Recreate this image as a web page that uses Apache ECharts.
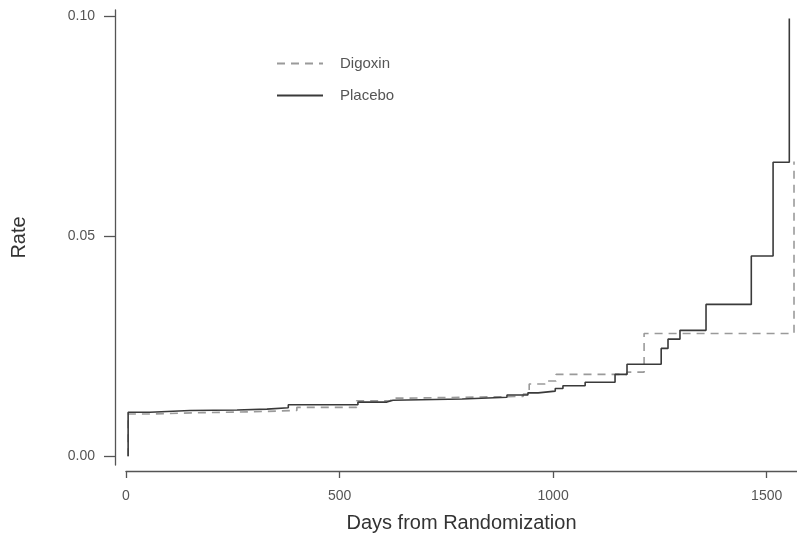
<!DOCTYPE html>
<html>
<head>
<meta charset="utf-8">
<script src="https://cdn.jsdelivr.net/npm/echarts@6/dist/echarts.min.js"></script>
<style>
  html, body { margin: 0; padding: 0; background: #fff; }
  #chart { width: 797px; height: 542px; }
</style>
</head>
<body>
<div id="chart"></div>
<script>
// step points [day, rate]
var digoxinData = [
	[5, 0], [5, 0.0096], [60, 0.0099], [180, 0.0101], [300, 0.0104], [400, 0.0111],
	[540, 0.0126], [620, 0.0132], [660, 0.0136], [930, 0.0141], [944, 0.0164],
	[981, 0.0171], [1007, 0.0186], [1173, 0.0191], [1213, 0.0279], [1564, 0.0670]
];
var placeboData = [
	[5, 0], [5, 0.0100], [56, 0.0104], [150, 0.0105], [260, 0.0107], [330, 0.0110],
	[380, 0.0117], [543, 0.0123], [611, 0.0127], [625, 0.0130], [787, 0.0134],
	[892, 0.0139], [941, 0.0144], [965, 0.0148], [1005, 0.0154], [1023, 0.0160],
	[1075, 0.0168], [1145, 0.0186], [1173, 0.0209], [1253, 0.0245], [1269, 0.0266],
	[1297, 0.0286], [1358, 0.0345], [1464, 0.0455], [1515, 0.0668], [1553, 0.0995]
];
var xTicks = [0, 500, 1000, 1500];
var yTicks = [0, 0.05, 0.1];
var yLabels = ['0.00', '0.05', '0.10'];

var font = 'Liberation Sans';
var axisColor = '#555';

var dom = document.getElementById('chart');
var myChart = echarts.init(dom);
var option = {
	animation: false,
	grid: {
		left: 126,
		right: 0,
		top: 10,
		bottom: 77
	},
	legend: {
		orient: 'vertical',
		left: 271,
		top: 51,
		itemWidth: 46,
		itemHeight: 14,
		itemGap: 17,
		data: ['Digoxin', 'Placebo'],
		itemStyle: { opacity: 0 },
		textStyle: {
			color: '#555',
			fontSize: 15,
			fontFamily: font,
			padding: [0, 0, 0, 12]
		}
	},
	xAxis: {
		type: 'value',
		min: 0,
		max: 1571,
		interval: 500,
		offset: 6,
		name: 'Days from Randomization',
		nameLocation: 'middle',
		nameGap: 42,
		nameTextStyle: {
			color: '#333',
			fontSize: 20,
			fontFamily: font
		},
		axisLine: { onZero: false, lineStyle: { color: axisColor, width: 1.3 } },
		axisTick: { length: 7, lineStyle: { color: axisColor, width: 1.3 }, customValues: xTicks },
		axisLabel: {
			color: '#555',
			fontSize: 14,
			fontFamily: font,
			margin: 18,
			customValues: xTicks,
			formatter: function (v) { return String(v); }
		},
		splitLine: { show: false }
	},
	yAxis: {
		type: 'value',
		min: -0.002,
		max: 0.10141,
		offset: 11,
		name: 'Rate',
		nameLocation: 'middle',
		nameGap: 86,
		nameRotate: 90,
		nameTextStyle: {
			color: '#333',
			fontSize: 20,
			fontFamily: font
		},
		axisLine: { show: true, onZero: false, lineStyle: { color: axisColor, width: 1.3 } },
		axisTick: { show: true, length: 11, lineStyle: { color: axisColor, width: 1.3 }, customValues: yTicks },
		axisLabel: {
			color: '#555',
			fontSize: 14,
			fontFamily: font,
			margin: 20,
			customValues: yTicks,
			formatter: function (v) {
				var i = yTicks.indexOf(v);
				return i >= 0 ? yLabels[i] : '';
			}
		},
		splitLine: { show: false }
	},
	series: [{
		name: 'Digoxin',
		type: 'line',
		step: 'end',
		symbol: 'none',
		data: digoxinData,
		lineStyle: { color: '#9a9a9a', width: 1.6, type: [8, 6] },
		itemStyle: { color: '#9a9a9a' },
		z: 2
	}, {
		name: 'Placebo',
		type: 'line',
		step: 'end',
		symbol: 'none',
		data: placeboData,
		lineStyle: { color: '#3a3a3a', width: 1.6 },
		itemStyle: { color: '#3a3a3a' },
		z: 3
	}]
};
myChart.setOption(option, true);
</script>
</body>
</html>
